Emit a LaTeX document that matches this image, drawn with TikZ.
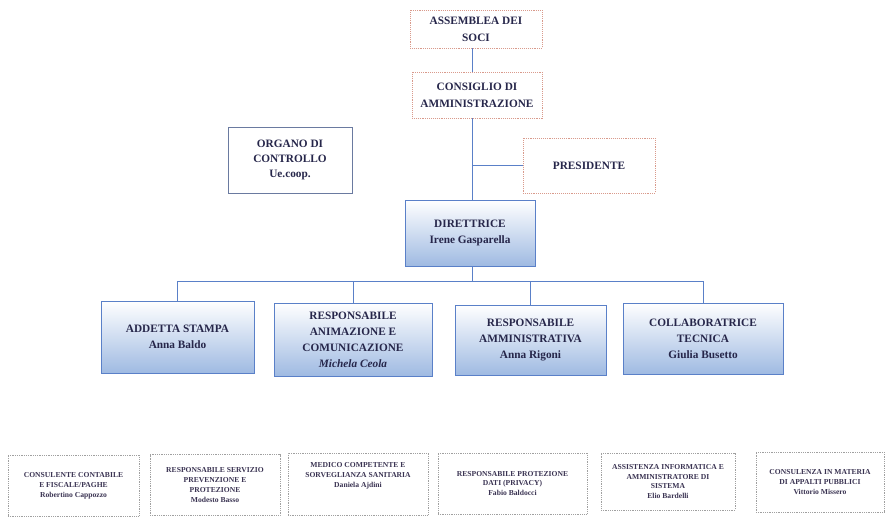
\documentclass[tikz,border=0pt]{standalone}
\usepackage{fontspec}
\setmainfont{Liberation Serif}
\definecolor{txt}{HTML}{26264A}
\definecolor{btxt}{HTML}{3A3352}
\definecolor{redb}{HTML}{D99A8C}
\definecolor{blueb}{HTML}{5A80C8}
\definecolor{orgb}{HTML}{6A7AA0}
\definecolor{grayb}{HTML}{A0A0A0}
\definecolor{shade}{HTML}{9FBAE2}
\definecolor{conn}{HTML}{5A80C8}
\tikzset{
  topbox/.style={draw=redb, densely dotted, line width=0.9pt, align=center, text=txt,
    font=\fontsize{11.3}{17}\selectfont\bfseries, inner sep=2pt},
  orgbox/.style={draw=orgb, line width=1pt, align=center, text=txt,
    font=\fontsize{11.3}{15}\selectfont\bfseries, inner sep=2pt},
  staffbox/.style={draw=blueb, line width=1pt, align=center, text=txt,
    top color=white, middle color=white, bottom color=shade,
    font=\fontsize{11.3}{16}\selectfont\bfseries, inner sep=2pt},
  extbox/.style={draw=grayb, densely dotted, line width=0.8pt, align=center, text=btxt,
    font=\fontsize{7.6}{9.8}\selectfont\bfseries, inner sep=2pt},
  link/.style={draw=conn, line width=0.9pt}
}
\begin{document}
\begin{tikzpicture}[x=1pt,y=-1pt]
\useasboundingbox (0,0) rectangle (886,517);
\coordinate (trunk) at (472,0);
\coordinate (bus) at (472,281);

\node[topbox, minimum width=132pt, minimum height=38pt] (ass) at (476,29) {ASSEMBLEA DEI\\SOCI};
\node[topbox, minimum width=130pt, minimum height=46pt] (cda) at (477,95) {CONSIGLIO DI\\AMMINISTRAZIONE};
\node[topbox, minimum width=132pt, minimum height=55pt] (pres) at (589,165.5) {PRESIDENTE};
\node[orgbox, minimum width=124pt, minimum height=66pt] (org) at (290,160) {ORGANO DI\\CONTROLLO\\Ue.coop.};
\node[staffbox, minimum width=130pt, minimum height=66pt] (dir) at (470,233) {DIRETTRICE\\Irene Gasparella};

\node[staffbox, minimum width=153pt, minimum height=72pt] (s1) at (177.5,337) {ADDETTA STAMPA\\Anna Baldo};
\node[staffbox, minimum width=158pt, minimum height=73pt] (s2) at (353,339.5) {RESPONSABILE\\ANIMAZIONE E\\COMUNICAZIONE\\\textit{Michela Ceola}};
\node[staffbox, minimum width=151pt, minimum height=70pt] (s3) at (530.5,340) {RESPONSABILE\\AMMINISTRATIVA\\Anna Rigoni};
\node[staffbox, minimum width=160pt, minimum height=71pt] (s4) at (703,338.5) {COLLABORATRICE\\TECNICA\\Giulia Busetto};

\node[extbox, minimum width=131pt, minimum height=61pt] (b1) at (73.5,485.5) {CONSULENTE CONTABILE\\E FISCALE/PAGHE\\Robertino Cappozzo};
\node[extbox, minimum width=130pt, minimum height=61pt] (b2) at (215,485) {RESPONSABILE SERVIZIO\\PREVENZIONE E\\PROTEZIONE\\Modesto Basso};
\node[extbox, minimum width=140pt, minimum height=62pt] (b3) at (358,484) {MEDICO COMPETENTE E\\SORVEGLIANZA SANITARIA\\Daniela Ajdini\\\phantom{X}\\[-2pt]};
\node[extbox, minimum width=149pt, minimum height=61pt] (b4) at (512.5,483.5) {RESPONSABILE PROTEZIONE\\DATI (PRIVACY)\\Fabio Baldocci};
\node[extbox, minimum width=134pt, minimum height=57pt] (b5) at (668,481.5) {ASSISTENZA INFORMATICA E\\AMMINISTRATORE DI\\SISTEMA\\Elio Bardelli};
\node[extbox, minimum width=128pt, minimum height=60pt] (b6) at (820,482) {CONSULENZA IN MATERIA\\DI APPALTI PUBBLICI\\Vittorio Missero};

\draw[link] (ass.south -| trunk) -- (cda.north -| trunk);
\draw[link] (cda.south -| trunk) -- (dir.north -| trunk);
\draw[link] (pres.west) -- (pres.west -| trunk);
\draw[link] (dir.south -| trunk) -- (bus);
\draw[link] (s1.north) -- (s1.north |- bus) -- (s4.north |- bus) -- (s4.north);
\draw[link] (s2.north) -- (s2.north |- bus);
\draw[link] (s3.north) -- (s3.north |- bus);
\end{tikzpicture}
\end{document}
